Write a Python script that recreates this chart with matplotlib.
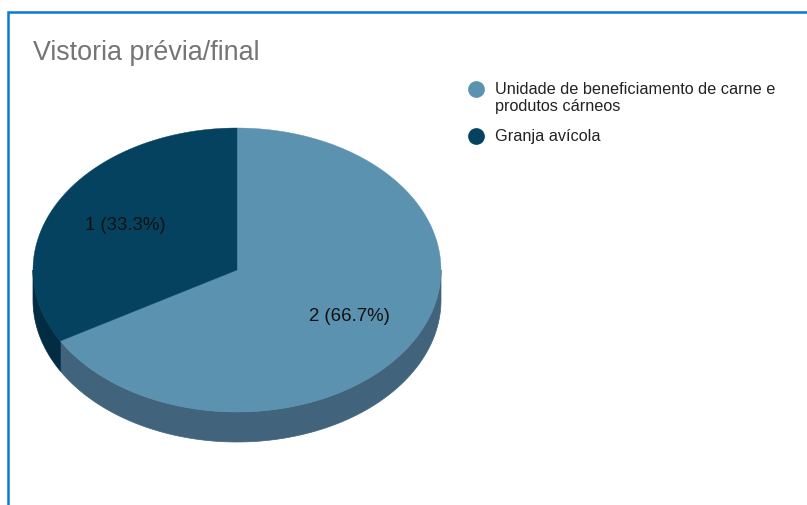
import matplotlib
matplotlib.use('Agg')
import matplotlib.pyplot as plt
import numpy as np

plt.rcParams['font.family'] = ['Liberation Sans', 'DejaVu Sans']

title = 'Vistoria prévia/final'
categories = ['Unidade de beneficiamento de carne e\nprodutos cárneos', 'Granja avícola']
counts = [2, 1]
top_colors = ['#5b92b0', '#04425f']
wall_colors = ['#41647c', '#012c42']

# pie geometry, in pixels
cx, cy = 237, 271
rx, ry = 204, 142
depth = 30


def rim(a0, a1):
    # points on the ellipse, angle measured clockwise from 12 o'clock
    t = np.linspace(a0, a1, 200)
    return cx + rx * np.sin(t), cy - ry * np.cos(t)


fig = plt.figure(figsize=(8.07, 5.06), dpi=100)
ax = fig.add_axes([0, 0, 1, 1])
ax.set_xlim(0, 807)
ax.set_ylim(506, 0)
ax.axis('off')

# card border, open at the bottom and right
ax.plot([7.5, 7.5, 807], [506, 12.5, 12.5], color='#0a7ad0', lw=1.8, solid_joinstyle='miter')

shares = np.array(counts) / sum(counts)
edges = np.concatenate([[0], np.cumsum(shares)]) * 2 * np.pi

# side wall first, only the front half of the rim is visible
for i in range(len(counts)):
    a0 = max(edges[i], np.pi / 2)
    a1 = min(edges[i + 1], 3 * np.pi / 2)
    if a1 <= a0:
        continue
    x, y = rim(a0, a1)
    ax.fill(np.r_[x, x[::-1]], np.r_[y, y[::-1] + depth], color=wall_colors[i], lw=0.5)

# top face
for i in range(len(counts)):
    x, y = rim(edges[i], edges[i + 1])
    ax.fill(np.r_[cx, x], np.r_[cy, y], color=top_colors[i], lw=0.3)

    mid = (edges[i] + edges[i + 1]) / 2
    lx = cx + 0.634 * rx * np.sin(mid)
    ly = cy - 0.634 * ry * np.cos(mid)
    ax.text(lx, ly, '%d (%.1f%%)' % (counts[i], shares[i] * 100),
            ha='center', va='center', fontsize=13.4, color='#111111')

ax.text(33, 60, title, fontsize=19.4, color='#757575', va='baseline')

# legend
legend_y = [90, 137]
for i in range(len(categories)):
    ax.scatter([476], [legend_y[i]], s=145, color=top_colors[i], linewidths=0)
    ax.text(495, legend_y[i] - 8, categories[i], fontsize=11.7, color='#222222',
            va='top', linespacing=1.17)

fig.savefig('out.png', dpi=100)
